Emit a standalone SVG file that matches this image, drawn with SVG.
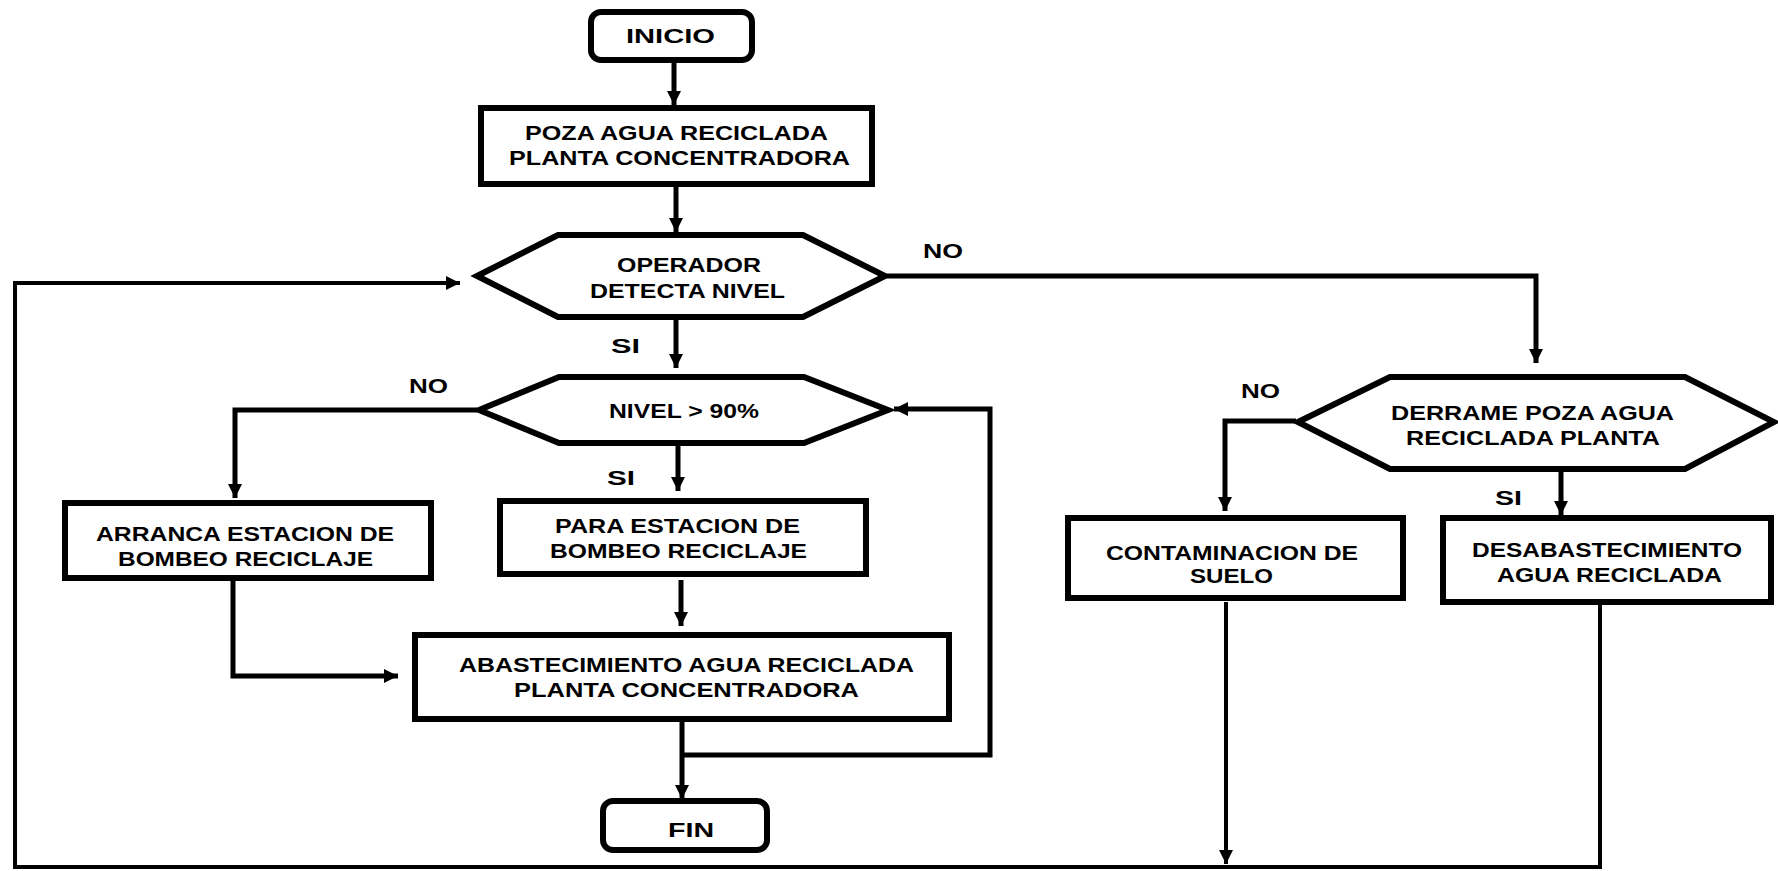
<svg xmlns="http://www.w3.org/2000/svg" width="1778" height="871" viewBox="0 0 1778 871">
<style>
.box{fill:#fff;stroke:#000;stroke-width:6}
.t{font-family:"Liberation Sans",Arial,sans-serif;font-weight:bold;font-size:20px;fill:#000}
.c{fill:none;stroke:#000;stroke-width:5;stroke-linejoin:miter}
.c2{fill:none;stroke:#000;stroke-width:4}
</style>
<defs>
<marker id="ah" markerUnits="userSpaceOnUse" markerWidth="14" markerHeight="14" refX="14" refY="7" orient="auto" viewBox="0 0 14 14">
<path d="M0,0 L14,7 L0,14 z" fill="#000"/>
</marker>
</defs>
<rect width="1778" height="871" fill="#fff"/>
<g id="connectors">
<path class="c" d="M674,63 V105" marker-end="url(#ah)"/>
<path class="c" d="M676,187 V232" marker-end="url(#ah)"/>
<path class="c" d="M887,276 H1536 V363" marker-end="url(#ah)"/>
<path class="c" d="M676,320 V368" marker-end="url(#ah)"/>
<path class="c" d="M477,410 H235 V498" marker-end="url(#ah)"/>
<path class="c" d="M678,446 V491" marker-end="url(#ah)"/>
<path class="c" d="M681,580 V626" marker-end="url(#ah)"/>
<path class="c" d="M233,581 V676 H398" marker-end="url(#ah)"/>
<path class="c" d="M682,722 V799" marker-end="url(#ah)"/>
<path class="c" d="M682,755 H990 V409 H894" marker-end="url(#ah)"/>
<path class="c" d="M1296,421 H1225 V511" marker-end="url(#ah)"/>
<path class="c" d="M1561,472 V515" marker-end="url(#ah)"/>
<path class="c2" d="M1226,602 V864" marker-end="url(#ah)"/>
<path class="c2" d="M1600,605 V867 H15 V283 H460" marker-end="url(#ah)"/>
</g>
<g id="inicio">
<rect class="box" x="591" y="12" width="161" height="48" rx="10"/>
<text class="t" x="626" y="43" textLength="89" lengthAdjust="spacingAndGlyphs">INICIO</text>
</g>
<g id="poza">
<rect class="box" x="481" y="108" width="391" height="76"/>
<text class="t" x="525" y="140" textLength="303" lengthAdjust="spacingAndGlyphs">POZA AGUA RECICLADA</text>
<text class="t" x="509" y="165" textLength="341" lengthAdjust="spacingAndGlyphs">PLANTA CONCENTRADORA</text>
</g>
<g id="operador">
<polygon class="box" points="477,276 558,235 803,235 885,276 803,317 558,317"/>
<text class="t" x="617" y="272" textLength="144" lengthAdjust="spacingAndGlyphs">OPERADOR</text>
<text class="t" x="590" y="298" textLength="195" lengthAdjust="spacingAndGlyphs">DETECTA NIVEL</text>
</g>
<g id="nivel">
<polygon class="box" points="479,410 559,377 804,377 888,410 804,443 559,443"/>
<text class="t" x="609" y="418" textLength="150" lengthAdjust="spacingAndGlyphs">NIVEL &gt; 90%</text>
</g>
<g id="arranca">
<rect class="box" x="65" y="503" width="366" height="75"/>
<text class="t" x="96" y="541" textLength="298" lengthAdjust="spacingAndGlyphs">ARRANCA ESTACION DE</text>
<text class="t" x="118" y="566" textLength="255" lengthAdjust="spacingAndGlyphs">BOMBEO RECICLAJE</text>
</g>
<g id="para">
<rect class="box" x="500" y="501" width="366" height="73"/>
<text class="t" x="555" y="533" textLength="245" lengthAdjust="spacingAndGlyphs">PARA ESTACION DE</text>
<text class="t" x="550" y="558" textLength="257" lengthAdjust="spacingAndGlyphs">BOMBEO RECICLAJE</text>
</g>
<g id="abastecimiento">
<rect class="box" x="415" y="635" width="534" height="84"/>
<text class="t" x="459" y="672" textLength="455" lengthAdjust="spacingAndGlyphs">ABASTECIMIENTO AGUA RECICLADA</text>
<text class="t" x="514" y="697" textLength="345" lengthAdjust="spacingAndGlyphs">PLANTA CONCENTRADORA</text>
</g>
<g id="fin">
<rect class="box" x="603" y="801" width="164" height="49" rx="10"/>
<text class="t" x="668" y="837" textLength="46" lengthAdjust="spacingAndGlyphs">FIN</text>
</g>
<g id="derrame">
<polygon class="box" points="1298,422 1390,377 1685,377 1774,422 1685,469 1390,469"/>
<text class="t" x="1391" y="420" textLength="283" lengthAdjust="spacingAndGlyphs">DERRAME POZA AGUA</text>
<text class="t" x="1406" y="445" textLength="254" lengthAdjust="spacingAndGlyphs">RECICLADA PLANTA</text>
</g>
<g id="contaminacion">
<rect class="box" x="1068" y="518" width="335" height="80"/>
<text class="t" x="1106" y="560" textLength="252" lengthAdjust="spacingAndGlyphs">CONTAMINACION DE</text>
<text class="t" x="1190" y="583" textLength="83" lengthAdjust="spacingAndGlyphs">SUELO</text>
</g>
<g id="desabastecimiento">
<rect class="box" x="1443" y="518" width="328" height="84"/>
<text class="t" x="1472" y="557" textLength="270" lengthAdjust="spacingAndGlyphs">DESABASTECIMIENTO</text>
<text class="t" x="1497" y="582" textLength="225" lengthAdjust="spacingAndGlyphs">AGUA RECICLADA</text>
</g>
<g id="labels">
<text class="t" x="923" y="258" textLength="40" lengthAdjust="spacingAndGlyphs">NO</text>
<text class="t" x="611" y="353" textLength="29" lengthAdjust="spacingAndGlyphs">SI</text>
<text class="t" x="409" y="393" textLength="39" lengthAdjust="spacingAndGlyphs">NO</text>
<text class="t" x="607" y="485" textLength="28" lengthAdjust="spacingAndGlyphs">SI</text>
<text class="t" x="1241" y="398" textLength="39" lengthAdjust="spacingAndGlyphs">NO</text>
<text class="t" x="1495" y="505" textLength="27" lengthAdjust="spacingAndGlyphs">SI</text>
</g>
</svg>
